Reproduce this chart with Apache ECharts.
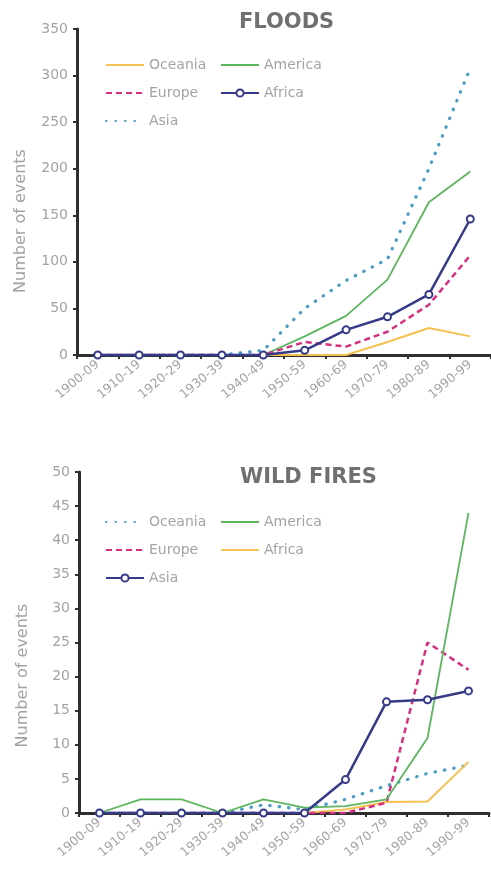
<!DOCTYPE html>
<html>
<head>
<meta charset="utf-8">
<script src="https://cdn.jsdelivr.net/npm/echarts@6/dist/echarts.min.js"></script>
<style>
html,body{margin:0;padding:0;background:#fff;}
#c1{position:absolute;left:0;top:0;width:491px;height:437px;}
#c2{position:absolute;left:0;top:437px;width:491px;height:436px;}
</style>
</head>
<body>
<div id="c1"></div>
<div id="c2"></div>
<script>
// ---- data ----
const categories = ['1900-09','1910-19','1920-29','1930-39','1940-49','1950-59','1960-69','1970-79','1980-89','1990-99'];

const floodsOceania = [0,0,0,0,0,0,0,14,29,20];
const floodsAmerica = [0,0,0,0,0,20,42,81,164,197];
const floodsEurope  = [0,0,0,0,0,14,9,25,54,107];
const floodsAfrica  = [0,0,0,0,0,5,27,41,65,146];
const floodsAsia    = [0,0,0,0,5,50,80,103,200,308];

const fireOceania = [0,0,0,0,1.2,0.5,2,4,5.8,7];
const fireAmerica = [0,2,2,0,2,0.8,1,2,11,44];
const fireEurope  = [0,0,0,0,0,0,0,1.5,25,21];
const fireAfrica  = [0,0,0,0,0,0,0.5,1.6,1.7,7.5];
const fireAsia    = [0,0,0,0,0,0,4.9,16.3,16.6,17.9];

const floodsTicks = [0,50,100,150,200,250,300,350];
const fireTicks = [0,5,10,15,20,25,30,35,40,45,50];

// ---- styles ----
const FONT = 'DejaVu Sans';
const AX = '#2e2e2e';
const GRAY = '#a3a3a3';
const C_YEL = '#f5c150';
const C_GRN = '#5db65e';
const C_MAG = '#d42f80';
const C_NAV = '#353b87';
const C_BLU = '#4b9cc2';

function solid(color, w){ return {type:'line', symbol:'none', lineStyle:{color:color,width:w}, itemStyle:{color:color}}; }
function dashed(color){ return {type:'line', symbol:'none', lineStyle:{color:color,width:2.5,type:[6,4]}, itemStyle:{color:color}}; }
function dotted(color){ return {type:'line', symbol:'none', lineStyle:{color:color,width:3.2,type:[0.5,9],cap:'round'}, itemStyle:{color:color}}; }
function marked(color){ return {type:'line', symbol:'emptyCircle', symbolSize:7, showSymbol:true, lineStyle:{color:color,width:2.5}, itemStyle:{color:color,borderWidth:2,borderColor:color}}; }

function axes(ticks, gridTop, gridH, gridLeft, gridW, namePad){
  return {
    grid:{left:gridLeft, top:gridTop, width:gridW, height:gridH, containLabel:false},
    xAxis:{
      type:'category', data:categories, boundaryGap:true,
      axisLine:{show:true, lineStyle:{color:AX,width:3}},
      axisTick:{show:true, length:4, lineStyle:{color:AX,width:2}},
      axisLabel:{rotate:40, color:GRAY, fontSize:12.5, fontFamily:FONT, margin:8, interval:0}
    },
    yAxis:{
      type:'value', min:ticks[0], max:ticks[ticks.length-1], interval:ticks[1]-ticks[0],
      axisLine:{show:true, lineStyle:{color:AX,width:3}},
      axisTick:{show:true, length:4, lineStyle:{color:AX,width:2}},
      splitLine:{show:false},
      axisLabel:{color:GRAY, fontSize:14, fontFamily:FONT, margin:9},
      name:'Number of events', nameLocation:'middle', nameGap:48,
      nameTextStyle:{color:GRAY, fontSize:16, fontFamily:FONT, padding:[0,namePad,0,0]}
    }
  };
}

// legend entries: series drawn without markers get their legend marker hidden
function entry(name, hasMarker){
  return hasMarker ? {name:name} : {name:name, itemStyle:{opacity:0}};
}
function legends(top, leftItems, rightItems){
  const base = {orient:'vertical', itemWidth:38, itemHeight:9, itemGap:14, top:top,
    textStyle:{color:GRAY, fontSize:14, fontFamily:FONT}};
  return [
    Object.assign({}, base, {left:100, data:leftItems}),
    Object.assign({}, base, {left:215, data:rightItems})
  ];
}

// ---- Floods ----
const c1 = echarts.init(document.getElementById('c1'));
const o1 = axes(floodsTicks, 29, 326, 77, 420, 58);
o1.animation = false;
o1.title = {text:'FLOODS', left:234, top:7, textStyle:{fontFamily:FONT, fontWeight:'bold', fontSize:21, color:'#707070'}};
o1.legend = legends(53,
  [entry('Oceania',false), entry('Europe',false), entry('Asia',false)],
  [entry('America',false), entry('Africa',true)]);
o1.series = [
  Object.assign(solid(C_YEL,2), {name:'Oceania', data:floodsOceania}),
  Object.assign(solid(C_GRN,1.8), {name:'America', data:floodsAmerica}),
  Object.assign(dashed(C_MAG), {name:'Europe', data:floodsEurope}),
  Object.assign(dotted(C_BLU), {name:'Asia', data:floodsAsia}),
  Object.assign(marked(C_NAV), {name:'Africa', data:floodsAfrica})
];
c1.setOption(o1);

// ---- Wild fires ----
const c2 = echarts.init(document.getElementById('c2'));
const o2 = axes(fireTicks, 35, 341, 79, 410, 66);
o2.animation = false;
o2.title = {text:'WILD FIRES', left:235, top:25, textStyle:{fontFamily:FONT, fontWeight:'bold', fontSize:21, color:'#707070'}};
o2.legend = legends(73,
  [entry('Oceania',false), entry('Europe',false), entry('Asia',true)],
  [entry('America',false), entry('Africa',false)]);
o2.series = [
  Object.assign(dotted(C_BLU), {name:'Oceania', data:fireOceania}),
  Object.assign(solid(C_YEL,2), {name:'Africa', data:fireAfrica}),
  Object.assign(dashed(C_MAG), {name:'Europe', data:fireEurope}),
  Object.assign(solid(C_GRN,1.8), {name:'America', data:fireAmerica}),
  Object.assign(marked(C_NAV), {name:'Asia', data:fireAsia})
];
c2.setOption(o2);
</script>
</body>
</html>
